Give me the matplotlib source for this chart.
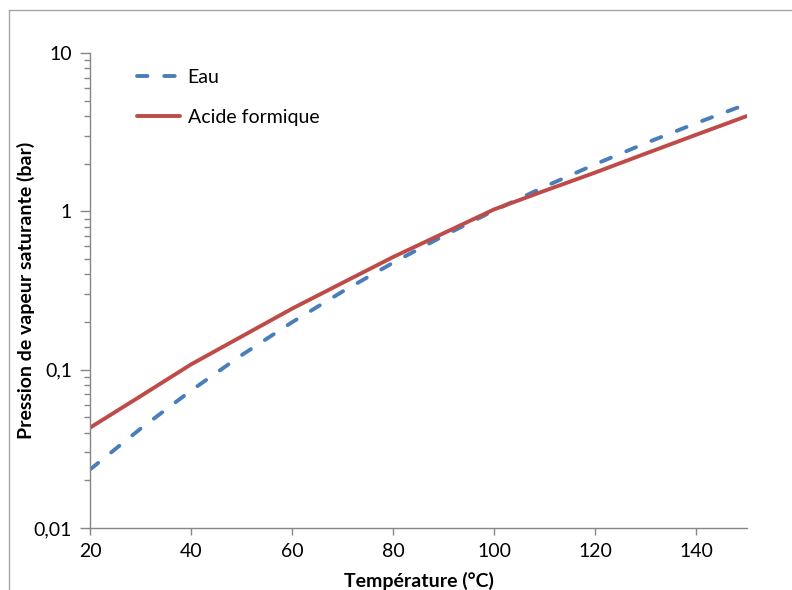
import matplotlib
matplotlib.use("Agg")
import matplotlib.pyplot as plt
from matplotlib.lines import Line2D
from matplotlib.ticker import NullFormatter, LogLocator

plt.rcParams['font.family'] = ['Lato', 'DejaVu Sans']

temps = [20, 30, 40, 50, 60, 70, 80, 90, 100, 110, 120, 130, 140, 150]
eau = [0.0234, 0.0424, 0.0738, 0.1235, 0.1995, 0.312, 0.474, 0.701, 1.013,
       1.433, 1.985, 2.70, 3.61, 4.76]
acide = [0.043, 0.068, 0.108, 0.162, 0.243, 0.354, 0.515, 0.728, 1.03,
         1.35, 1.76, 2.32, 3.05, 4.0]
x_ticks = [20, 40, 60, 80, 100, 120, 140]
y_ticks = [0.01, 0.1, 1, 10]
y_labels = ['0,01', '0,1', '1', '10']

W, H = 792, 590
fig = plt.figure(figsize=(W / 100, H / 100), dpi=100)
ax = fig.add_axes([90 / W, 1 - 528 / H, (747 - 90) / W, (528 - 53) / H])

blue = '#4a7ebb'
red = '#be4b48'
axc = '#868686'

ax.plot(temps, eau, color=blue, lw=2.8, dashes=(2.7, 4.3), dash_capstyle='round',
        label='Eau')
ax.plot(temps, acide, color=red, lw=2.8, solid_capstyle='round', label='Acide formique')

ax.set_yscale('log')
ax.set_xlim(20, 150)
ax.set_ylim(0.01, 10)
ax.set_xticks(x_ticks)
ax.set_yticks(y_ticks)
ax.set_yticklabels(y_labels)
ax.yaxis.set_minor_locator(LogLocator(base=10, subs=range(2, 10)))
ax.yaxis.set_minor_formatter(NullFormatter())

for s in ['top', 'right']:
    ax.spines[s].set_visible(False)
for s in ['left', 'bottom']:
    ax.spines[s].set_color(axc)
    ax.spines[s].set_linewidth(1.0)

ax.tick_params(axis='both', which='major', direction='out', colors=axc,
               labelcolor='black', labelsize=14, length=5, width=1.0)
ax.tick_params(axis='y', which='major', length=7, pad=6)
ax.tick_params(axis='y', which='minor', direction='out', colors=axc, length=4.5, width=1.0)
ax.tick_params(axis='x', which='major', pad=6)

ax.set_xlabel('Température (°C)', fontsize=14, fontweight='bold', labelpad=8.5)
ax.set_ylabel('Pression de vapeur saturante (bar)', fontsize=14, fontweight='bold')
ax.yaxis.set_label_coords(-0.083, 0.5)

leg = ax.legend(loc='upper left', bbox_to_anchor=(0.045, 1.004), frameon=False,
                fontsize=14, handlelength=2.2, handletextpad=0.4, labelspacing=1.2)

# outer chart frame
fig.add_artist(Line2D([9 / W, 9 / W], [0, 1 - 10 / H], color='#a6a6a6', lw=1.0,
                      transform=fig.transFigure))
fig.add_artist(Line2D([9 / W, 1], [1 - 10 / H, 1 - 10 / H], color='#a6a6a6', lw=1.0,
                      transform=fig.transFigure))

fig.savefig('out.png', dpi=100)
